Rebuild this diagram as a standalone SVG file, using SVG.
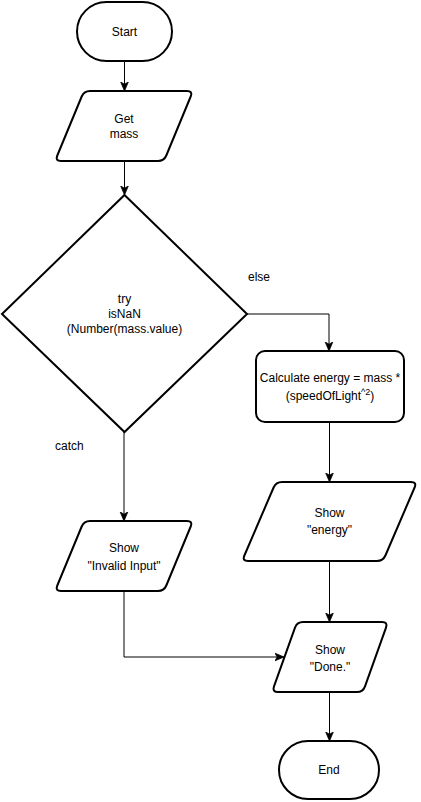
<svg xmlns="http://www.w3.org/2000/svg" width="421" height="802" viewBox="0 0 421 802">
  <style>
    .shape { fill: #ffffff; stroke: #000000; stroke-width: 2; }
    .edge { fill: none; stroke: #000000; stroke-width: 1; }
    text { font-family: "Liberation Sans", Arial, sans-serif; font-size: 12px; fill: #000000; }
    .c { text-anchor: middle; }
  </style>
  <defs>
    <marker id="arrow" markerUnits="userSpaceOnUse" markerWidth="10" markerHeight="10" viewBox="0 0 10 10" refX="9" refY="5" orient="auto">
      <path d="M0,1.2 L9,5 L0,8.8 L2.2,5 Z" fill="#000000" stroke="#000000" stroke-width="0.8"/>
    </marker>
  </defs>

  <rect width="421" height="802" fill="#ffffff"/>

  <!-- connectors -->
  <g id="edges">
    <path class="edge" d="M124.5,61 V91" marker-end="url(#arrow)"/>
    <path class="edge" d="M124.5,161 V195" marker-end="url(#arrow)"/>
    <path class="edge" d="M247,314 H329 V351" marker-end="url(#arrow)"/>
    <path class="edge" d="M124,432 V521" marker-end="url(#arrow)"/>
    <path class="edge" d="M124,592 V657 H284" marker-end="url(#arrow)"/>
    <path class="edge" d="M329.5,422 V482" marker-end="url(#arrow)"/>
    <path class="edge" d="M329.5,561 V622" marker-end="url(#arrow)"/>
    <path class="edge" d="M329.5,692 V741" marker-end="url(#arrow)"/>
    <text x="248" y="281">else</text>
    <text x="55" y="450">catch</text>
  </g>

  <!-- start terminator -->
  <g id="start">
    <rect class="shape" x="77" y="2" width="95" height="59" rx="29.5" ry="29.5"/>
    <text class="c" x="124.5" y="35.5">Start</text>
  </g>

  <!-- input: mass -->
  <g id="get-mass">
    <path class="shape" d="M90,91 H187 Q193,91 190.7,96.5 L166.3,155.5 Q164,161 158,161 H61 Q55,161 57.3,155.5 L81.7,96.5 Q84,91 90,91 Z"/>
    <text class="c" x="124" y="122.5">Get</text>
    <text class="c" x="124" y="137.5">mass</text>
  </g>

  <!-- decision -->
  <g id="check-mass">
    <polygon class="shape" points="124.5,195 247,314 124.5,432 2,314"/>
    <text class="c" x="124.5" y="303">try</text>
    <text class="c" x="124.5" y="318">isNaN</text>
    <text class="c" x="124.5" y="332.5">(Number(mass.value)</text>
  </g>

  <!-- process -->
  <g id="calculate">
    <rect class="shape" x="256" y="351" width="148" height="71" rx="9" ry="9"/>
    <text class="c" x="330" y="382">Calculate energy = mass *</text>
    <text class="c" x="330" y="400">(speedOfLight<tspan font-size="9" baseline-shift="super">^2</tspan>)</text>
  </g>

  <!-- output: invalid input -->
  <g id="show-invalid">
    <path class="shape" d="M90,521 H187 Q193,521 190.7,526.5 L166.3,585.5 Q164,591 158,591 H61 Q55,591 57.3,585.5 L81.7,526.5 Q84,521 90,521 Z"/>
    <text class="c" x="124" y="552">Show</text>
    <text class="c" x="124" y="570">"Invalid Input"</text>
  </g>

  <!-- output: energy -->
  <g id="show-energy">
    <path class="shape" d="M282,482 H411 Q417,482 414.6,487.5 L385.4,555.5 Q383,561 377,561 H248 Q242,561 244.4,555.5 L273.6,487.5 Q276,482 282,482 Z"/>
    <text class="c" x="329.5" y="517">Show</text>
    <text class="c" x="329.5" y="534">"energy"</text>
  </g>

  <!-- output: done -->
  <g id="show-done">
    <path class="shape" d="M303,622 H382 Q388,622 386,627.65 L365,686.35 Q363,692 357,692 H278 Q272,692 274,686.35 L295,627.65 Q297,622 303,622 Z"/>
    <text class="c" x="330" y="654">Show</text>
    <text class="c" x="330" y="671">"Done."</text>
  </g>

  <!-- end terminator -->
  <g id="end">
    <rect class="shape" x="279" y="741" width="100" height="58" rx="29" ry="29"/>
    <text class="c" x="329" y="774">End</text>
  </g>
</svg>
